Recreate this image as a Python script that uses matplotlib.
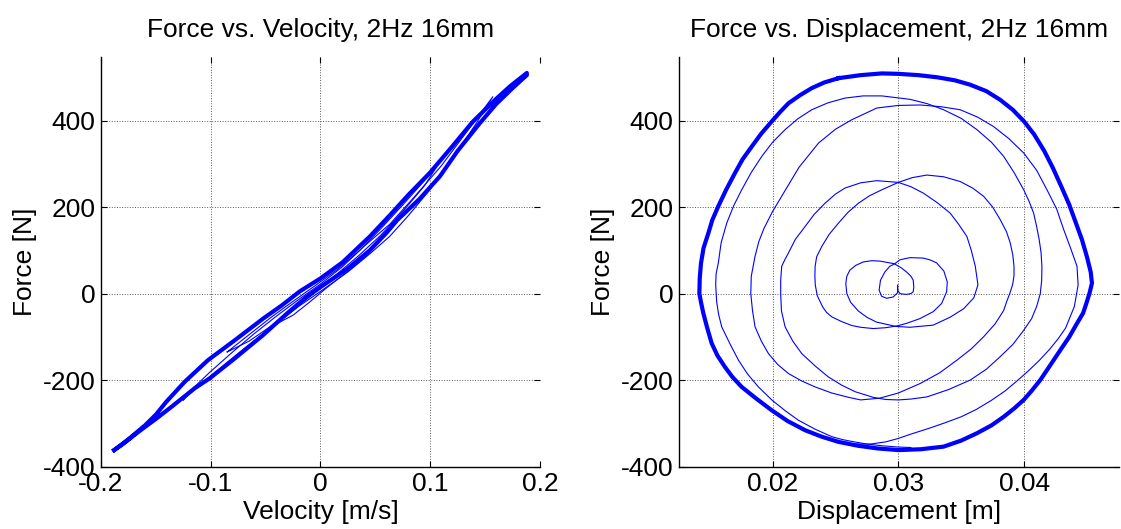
import matplotlib
matplotlib.use("Agg")
import matplotlib.pyplot as plt

plt.rcParams['font.family'] = ['Liberation Sans', 'DejaVu Sans']
plt.rcParams['axes.unicode_minus'] = False

# ---- force vs displacement ----
# ramp-up: starts at rest in the middle and spirals out (clockwise)
ramp_up_disp = [0.02994, 0.02994,
                0.02959, 0.02906, 0.02866, 0.02847, 0.02858, 0.02893, 0.02932, 0.02972,
                0.03012, 0.03092, 0.03197, 0.0325, 0.03304, 0.03362, 0.03389, 0.03384, 0.03344, 0.03277,
                0.03171, 0.03065, 0.02986, 0.0290, 0.0280, 0.0270, 0.0263, 0.0255, 0.02471, 0.0243,
                0.0240, 0.02355, 0.02339,
                0.02336, 0.02338, 0.0235, 0.02391, 0.0245, 0.02524, 0.0260, 0.02683, 0.0277, 0.02869,
                0.0300, 0.0311, 0.03227, 0.0336, 0.03492, 0.0359, 0.03678, 0.0375, 0.0381, 0.0386,
                0.0389, 0.0391, 0.0392, 0.0392, 0.0391, 0.0389, 0.0386, 0.03838, 0.0377, 0.03678, 0.0358,
                0.03466, 0.0333, 0.03174, 0.0300, 0.0285, 0.0270, 0.02604, 0.0247, 0.02338, 0.0223,
                0.02126, 0.0204, 0.01967, 0.0191, 0.0186, 0.0184, 0.01826, 0.0183, 0.0186, 0.0189,
                0.0193, 0.0200, 0.02072, 0.0214, 0.0221, 0.02365, 0.0250, 0.0263, 0.02829, 0.0300,
                0.03174, 0.0334, 0.03492, 0.0363, 0.03758, 0.0388, 0.03997, 0.0410, 0.04182, 0.0426,
                0.04315, 0.0437, 0.04421, 0.0443, 0.0440, 0.0433, 0.0427, 0.0420, 0.0412, 0.0403,
                0.0394, 0.0385, 0.0374, 0.0362, 0.0350, 0.0336, 0.0323, 0.0310, 0.0300, 0.0290,
                0.0278, 0.0265]
ramp_up_force = [19, 2,
                 -8, -11, -6, 8, 31, 50, 63, 69,
                 78, 83, 82, 78, 71, 52, 27, 4, -23, -42,
                 -58, -69, -75, -79, -81, -78, -74, -65, -54, -44,
                 -32, -5, 20,
                 40, 63, 85, 109, 137, 163, 188, 209, 226, 240,
                 257, 268, 274, 270, 259, 244, 225, 200, 171, 143,
                 117, 90, 63, 42, 22, 3, -20, -39, -70, -100, -128,
                 -154, -183, -208, -230, -242, -246, -240, -230, -216, -202,
                 -185, -164, -139, -110, -77, -40, 0, 40, 86, 120,
                 150, 190, 225, 258, 292, 348, 380, 402, 429, 435,
                 436, 432, 425, 408, 386, 358, 325, 285, 240, 195,
                 148, 105, 63, 20, -30, -80, -105, -130, -155, -180,
                 -203, -225, -247, -268, -285, -300, -313, -325, -335, -343,
                 -348, -348]

# steady cycles at full amplitude
steady_disp = [0.02524, 0.0270, 0.02869, 0.0300, 0.0316, 0.0331, 0.0345, 0.0357, 0.0370, 0.0381,
               0.0391, 0.0400, 0.0408, 0.0416, 0.0423, 0.0430, 0.0436, 0.0441, 0.0446, 0.0450,
               0.0453, 0.0454, 0.0452, 0.04495, 0.0447, 0.04421, 0.0436, 0.04288, 0.0421, 0.04129,
               0.0406, 0.03997, 0.0392, 0.03838, 0.0374, 0.03625, 0.0350, 0.0336, 0.0318, 0.0300,
               0.02829, 0.0268, 0.02524, 0.0239, 0.02258, 0.0212, 0.01993, 0.0187, 0.01754, 0.0168,
               0.01621, 0.0156, 0.01515, 0.0148, 0.01449, 0.0143, 0.01417, 0.0142, 0.01430, 0.0145,
               0.01489, 0.0152, 0.01568, 0.0163, 0.01701, 0.0176, 0.01834, 0.0191, 0.01993, 0.0206,
               0.02126, 0.0222, 0.02311, 0.0241, 0.02524]
steady_force = [498, 505, 509, 508, 505, 500, 493, 483, 468, 448,
                425, 398, 368, 330, 290, 245, 205, 165, 125, 85,
                50, 24, 0, -23, -45, -69, -100, -131, -165, -200,
                -225, -246, -266, -285, -305, -323, -340, -354, -360, -362,
                -358, -352, -343, -331, -316, -295, -270, -243, -216, -193,
                -170, -143, -115, -80, -46, -20, 0, 35, 70, 105,
                140, 170, 202, 240, 279, 310, 340, 370, 398, 420,
                440, 459, 475, 488, 498]

# ramp-down: spirals back in to rest
ramp_down_disp = [0.0310, 0.0300, 0.02869, 0.0275, 0.0265, 0.0256, 0.02471, 0.0234, 0.02205, 0.0210,
                  0.01993, 0.01887, 0.0180, 0.01728, 0.0166, 0.01595, 0.0157, 0.01555, 0.01547, 0.0155,
                  0.01568, 0.0159, 0.01635, 0.0169, 0.01754, 0.0183, 0.01913, 0.0200, 0.02099, 0.0220,
                  0.02311, 0.0244, 0.02576, 0.0272, 0.02869, 0.03094, 0.0323, 0.0336, 0.0350, 0.03625,
                  0.0374, 0.03838, 0.0392, 0.03997, 0.0404, 0.04076, 0.0410, 0.0412, 0.04135, 0.04142,
                  0.0414, 0.04129, 0.0410, 0.0406, 0.03997, 0.0391, 0.0381, 0.0370, 0.03572, 0.0340,
                  0.03227, 0.0310, 0.0300, 0.0290, 0.0280, 0.02656, 0.0255, 0.02444, 0.0234, 0.02232,
                  0.0216, 0.02099, 0.0207, 0.02064, 0.02064, 0.02072, 0.0210, 0.02126, 0.0218, 0.02258,
                  0.0233, 0.02417, 0.0250, 0.02576, 0.0270, 0.02829, 0.0300, 0.0310, 0.0320, 0.0331,
                  0.03412, 0.0348, 0.03545, 0.0358, 0.03612, 0.03633, 0.0360, 0.0352, 0.0341, 0.03277,
                  0.03092, 0.0298, 0.02826, 0.0275, 0.0268, 0.0262, 0.02590, 0.02582, 0.0259, 0.02614,
                  0.0266, 0.0272, 0.0279, 0.02853, 0.02967, 0.0302, 0.03065, 0.0310, 0.03118, 0.03123,
                  0.03118, 0.0310, 0.03065, 0.0303, 0.03012, 0.02994, 0.02994]
ramp_down_force = [-356, -355, -352, -348, -343, -338, -331, -314, -293, -271,
                   -246, -216, -186, -154, -116, -77, -48, -20, 20, 45,
                   71, 117, 163, 203, 240, 280, 317, 350, 379, 404,
                   425, 441, 452, 457, 457, 449, 439, 425, 405, 379,
                   350, 317, 280, 240, 213, 186, 155, 125, 95, 63,
                   30, 0, -30, -58, -85, -118, -146, -175, -200, -222,
                   -239, -244, -246, -245, -240, -227, -212, -193, -168, -139,
                   -110, -77, -40, 0, 30, 63, 80, 94, 125, 155,
                   183, 209, 230, 244, 256, 261, 257, 247, 232, 210,
                   186, 160, 132, 100, 63, 20, -10, -35, -55, -73,
                   -78, -76, -66, -55, -40, -20, 0, 23, 40, 54,
                   65, 73, 76, 75, 69, 60, 50, 40, 31, 15,
                   4, 0, -2, -1, 0, 8, 19]

# ---- force vs velocity ----
steady_vel = [-0.188, -0.175, -0.160, -0.150, -0.1404, -0.1237, -0.1025, -0.0781, -0.0523, -0.035, -0.0189,
              0.0, 0.020, 0.045, 0.0632, 0.080, 0.0996, 0.120, 0.139, 0.160, 0.1726, 0.188,
              0.188, 0.175, 0.160, 0.1452, 0.125, 0.1088, 0.090, 0.070, 0.060, 0.045, 0.025, 0.0,
              -0.0128, -0.030, -0.0523, -0.0781, -0.1009, -0.1146, -0.1358, -0.150, -0.165, -0.180, -0.188]
steady_vel_force = [-362, -337, -305, -280, -250, -204, -154, -108, -58, -27, 5,
                    35, 72, 132, 181, 228, 279, 340, 398, 450, 479, 510,
                    505, 475, 438, 394, 330, 271, 218, 170, 140, 100, 58, 15,
                    -8, -45, -96, -150, -196, -219, -262, -290, -318, -348, -362]

ramp_vel_a = [-0.040, -0.025, -0.010, 0.005, 0.020, 0.035, 0.045,
              0.035, 0.020, 0.005, -0.010, -0.025, -0.040]
ramp_force_a = [-70, -38, -8, 22, 52, 80, 95,
                72, 42, 12, -20, -50, -70]

ramp_vel_b = [-0.085, -0.065, -0.045, -0.025, -0.005, 0.015, 0.035, 0.055, 0.075, 0.095, 0.105,
              0.095, 0.075, 0.055, 0.035, 0.015, -0.005, -0.025, -0.045, -0.065, -0.085]
ramp_force_b = [-135, -95, -55, -18, 18, 55, 98, 150, 205, 262, 290,
                250, 190, 135, 88, 45, 5, -35, -75, -110, -135]

ramp_vel_c = [-0.125, -0.120, -0.100, -0.080, -0.060, -0.040, -0.020, 0.0, 0.020, 0.040, 0.063, 0.085, 0.110, 0.135, 0.157,
              0.142, 0.120, 0.0997, 0.080, 0.063, 0.045, 0.025, 0.0, -0.020, -0.045, -0.070, -0.095, -0.115, -0.125]
ramp_force_c = [-246, -228, -180, -135, -92, -52, -14, 22, 62, 110, 160, 222, 295, 380, 455,
                394, 310, 240, 180, 132, 92, 50, 5, -30, -80, -128, -180, -222, -246]

BLUE = (0, 0, 1)

fig = plt.figure(figsize=(11.21, 5.29), dpi=100)
ax1 = fig.add_axes([0.0901, 0.1181, 0.3916, 0.7750])
ax2 = fig.add_axes([0.6057, 0.1181, 0.3925, 0.7750])

ax1.plot(steady_vel, steady_vel_force, color=BLUE, lw=3.0, solid_joinstyle='round')
for v, f in [(ramp_vel_a, ramp_force_a), (ramp_vel_b, ramp_force_b), (ramp_vel_c, ramp_force_c)]:
    ax1.plot(v, f, color=BLUE, lw=0.8)

ax2.plot(ramp_up_disp, ramp_up_force, color=BLUE, lw=0.8)
ax2.plot(ramp_down_disp, ramp_down_force, color=BLUE, lw=0.8)
ax2.plot(steady_disp, steady_force, color=BLUE, lw=3.0, solid_joinstyle='round')

ax1.set_xlim(-0.2, 0.2)
ax1.set_xticks([-0.2, -0.1, 0, 0.1, 0.2])
ax1.set_xticklabels(['-0.2', '-0.1', '0', '0.1', '0.2'])
ax2.set_xlim(0.01255, 0.04755)
ax2.set_xticks([0.02, 0.03, 0.04])
ax2.set_xticklabels(['0.02', '0.03', '0.04'])

for ax in (ax1, ax2):
    ax.set_ylim(-400, 548)
    ax.set_yticks([-400, -200, 0, 200, 400])
    ax.set_yticklabels(['-400', '-200', '0', '200', '400'])
    ax.grid(True, linestyle=':', color='0.35', lw=0.7)
    ax.spines['top'].set_visible(False)
    ax.spines['right'].set_visible(False)
    ax.spines['left'].set_linewidth(1.0)
    ax.spines['bottom'].set_linewidth(1.0)
    ax.tick_params(direction='in', length=4, width=0.8, top=True, right=True,
                   labelsize=19, pad=4)
    ax.set_ylabel('Force [N]', fontsize=19, labelpad=4)

ax1.set_title('Force vs. Velocity, 2Hz 16mm', fontsize=19, pad=14)
ax2.set_title('Force vs. Displacement, 2Hz 16mm', fontsize=19, pad=14)
ax1.set_xlabel('Velocity [m/s]', fontsize=19, labelpad=3)
ax2.set_xlabel('Displacement [m]', fontsize=19, labelpad=3)

fig.savefig('out.png', dpi=100)
